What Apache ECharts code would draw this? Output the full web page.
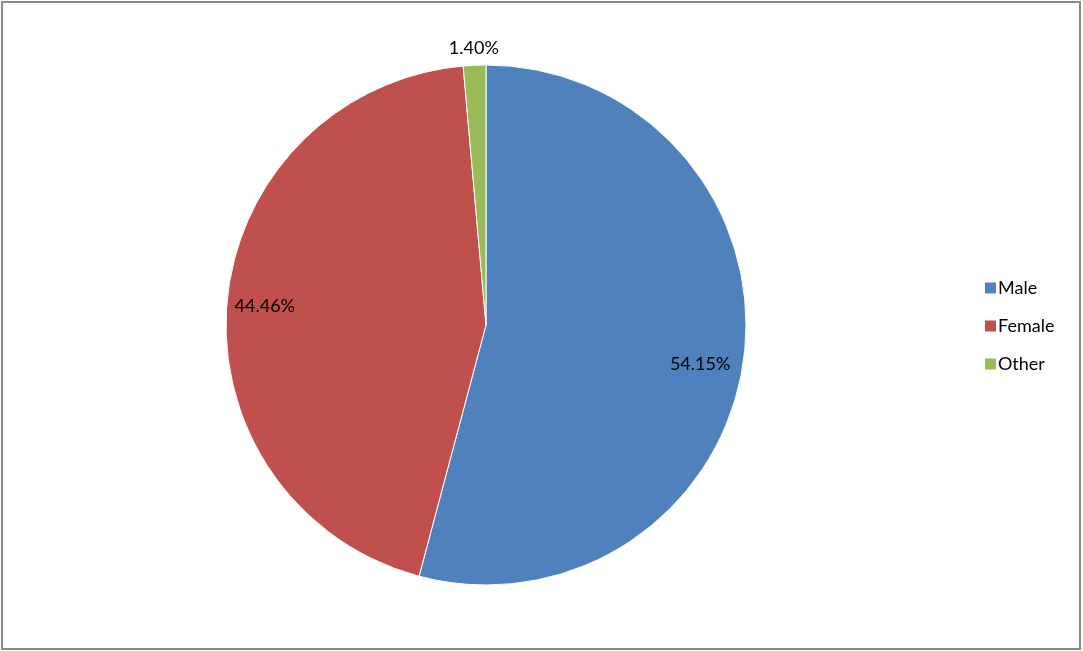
<!DOCTYPE html>
<html>
<head>
<meta charset="utf-8">
<script src="https://cdn.jsdelivr.net/npm/echarts@6/dist/echarts.min.js"></script>
<style>
  html, body { margin: 0; padding: 0; background: #fff; }
  #wrap { position: relative; width: 1083px; height: 651px; }
  #chart { position: absolute; left: 0; top: 0; width: 1083px; height: 651px; }
  #frame { position: absolute; left: 1px; top: 1px; width: 1080px; height: 649px;
           border: 2px solid #898989; box-sizing: border-box; pointer-events: none; }
</style>
</head>
<body>
<div id="wrap">
  <div id="chart"></div>
  <div id="frame"></div>
</div>
<script>
// data
const categories = ['Male', 'Female', 'Other']
const shares = [54.15, 44.46, 1.40]
const colors = ['#4F81BD', '#C0504D', '#9BBB59']

const labelFont = 'Lato, "Open Sans", sans-serif'

let myChart = echarts.init(document.getElementById('chart'))

const pieData = categories.map((name, i) => ({ name: name, value: shares[i] }))

// sliced copies used only to place the percentage labels
const labelFmt = p => p.value.toFixed(2) + '%'

myChart.setOption({
  animation: false,
  color: colors,
  legend: {
    orient: 'vertical',
    left: 980,
    top: 274,
    padding: 5,
    icon: 'rect',
    itemWidth: 11,
    itemHeight: 11,
    itemGap: 20,
    data: categories,
    itemStyle: { borderWidth: 0 },
    symbolRotate: 0,
    textStyle: { fontFamily: labelFont, fontSize: 18, color: '#000', padding: [0, 0, 0, -3] }
  },
  series: [
    {
      // the visible pie
      type: 'pie',
      center: [486, 325],
      radius: [0, 260],
      startAngle: 90,
      clockwise: true,
      data: pieData,
      label: { show: false },
      labelLine: { show: false },
      itemStyle: { borderColor: '#fff', borderWidth: 1 },
      silent: true
    },
    {
      // labels for the two big slices
      type: 'pie',
      center: [486, 325],
      radius: [0, 434],
      startAngle: 90,
      clockwise: true,
      silent: true,
      z: 3,
      data: pieData.map((d, i) => ({
        name: d.name,
        value: d.value,
        label: { show: i < 2, offset: i === 0 ? [-4, 11] : [-2, 0] }
      })),
      itemStyle: { color: 'rgba(0,0,0,0)' },
      label: { position: 'inside', formatter: labelFmt, color: '#000', fontFamily: labelFont, fontSize: 18 },
      labelLine: { show: false },
      legendHoverLink: false
    },
    {
      // label for the small slice, outside the pie
      type: 'pie',
      center: [486, 325],
      radius: [0, 548],
      startAngle: 90,
      clockwise: true,
      silent: true,
      z: 3,
      data: pieData.map((d, i) => ({
        name: d.name,
        value: d.value,
        label: { show: i === 2 }
      })),
      itemStyle: { color: 'rgba(0,0,0,0)' },
      label: { position: 'inside', formatter: labelFmt, color: '#000', fontFamily: labelFont, fontSize: 18 },
      labelLine: { show: false },
      legendHoverLink: false
    }
  ]
})
</script>
</body>
</html>
